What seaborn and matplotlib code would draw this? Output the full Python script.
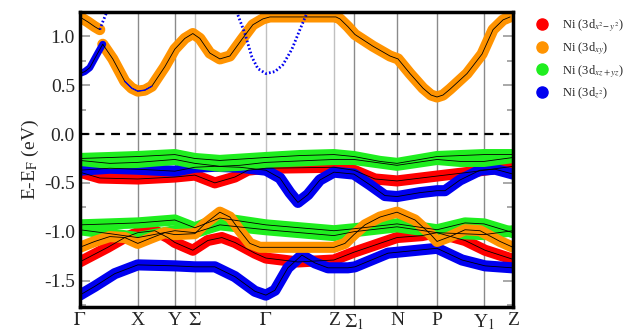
import numpy as np
import matplotlib
matplotlib.use("Agg")
import matplotlib.pyplot as plt
from matplotlib.lines import Line2D
import seaborn as sns

# ==========================================
# 1. Data (k in path units, energies in eV)
# ==========================================
KPOINTS = [0, 58, 95, 115, 186, 254, 274, 317, 357, 404, 433]
KLABELS = [r"$\Gamma$", "X", "Y", r"$\Sigma$", r"$\Gamma$", "Z", r"$\Sigma_1$", "N", "P", r"Y$_1$", "Z"]
LIGHT_LINES = [115, 186, 254]

# conduction bands
xy_top_k = [0, 8, 15, 20]
xy_top_e = [1.20, 1.15, 1.10, 1.07]
xy_main_k = [23, 33, 45, 52, 58, 65, 72, 85, 95, 105, 113, 120, 130, 140, 150, 162, 173, 183, 190, 256,
             260, 268, 275, 293, 310, 318, 330, 343, 351, 357, 363, 370, 387, 402, 413, 423, 430]
xy_main_e = [0.92, 0.77, 0.54, 0.47, 0.44, 0.45, 0.49, 0.69, 0.87, 0.98, 1.03, 0.98, 0.83, 0.77, 0.80, 0.97, 1.12,
             1.18, 1.20, 1.20, 1.18, 1.10, 1.02, 0.90, 0.80, 0.77, 0.62, 0.47, 0.40, 0.38, 0.40, 0.46, 0.62, 0.82,
             1.07, 1.17, 1.20]
z2_cb_k = [0, 5, 10, 18, 23]
z2_cb_e = [0.62, 0.64, 0.68, 0.83, 0.92]
z2_thin_k = [45, 52, 58, 65, 72]
z2_thin_e = [0.54, 0.47, 0.44, 0.45, 0.49]
para1_k = [20, 23, 27]
para1_e = [1.07, 1.15, 1.25]
para2_k = [158, 165, 172, 178, 186, 195, 203, 212, 220, 227]
para2_e = [1.22, 1.03, 0.79, 0.67, 0.62, 0.64, 0.71, 0.87, 1.07, 1.24]

# valence bands, upper group
xz_a_k = [0, 30, 58, 95, 115, 140, 186, 220, 254, 274, 300, 317, 340, 357, 404, 433]
xz_a_e = [-0.25, -0.24, -0.23, -0.21, -0.25, -0.27, -0.24, -0.22, -0.21, -0.23, -0.28, -0.30, -0.26, -0.23, -0.21, -0.21]
xz_b_k = [0, 30, 58, 95, 115, 140, 160, 186, 254, 274, 317, 357, 380, 404, 433]
xz_b_e = [-0.27, -0.30, -0.29, -0.26, -0.30, -0.33, -0.32, -0.29, -0.26, -0.26, -0.32, -0.26, -0.28, -0.28, -0.24]
z2_up_k = [0, 30, 58, 95, 115, 135, 160, 186, 200, 210, 218, 228, 240, 254, 274, 290, 305, 317, 340, 357, 365, 380, 400, 415, 433]
z2_up_e = [-0.37, -0.35, -0.36, -0.38, -0.34, -0.33, -0.34, -0.37, -0.45, -0.60, -0.70, -0.62, -0.47, -0.39, -0.41,
           -0.52, -0.63, -0.64, -0.60, -0.58, -0.58, -0.47, -0.37, -0.36, -0.41]
x2y2_up_k = [0, 20, 58, 95, 115, 135, 155, 168, 186, 254, 274, 295, 317, 357, 390, 433]
x2y2_up_e = [-0.39, -0.45, -0.46, -0.44, -0.42, -0.50, -0.44, -0.37, -0.35, -0.34, -0.37, -0.46, -0.48, -0.43, -0.39, -0.33]

# valence bands, lower group
xz_c_k = [0, 30, 58, 95, 115, 140, 186, 254, 274, 317, 357, 385, 404, 433]
xz_c_e = [-0.93, -0.92, -0.91, -0.88, -0.96, -0.86, -0.93, -0.99, -0.97, -0.92, -0.98, -0.91, -0.92, -1.01]
xz_d_k = [0, 30, 58, 95, 115, 140, 186, 254, 274, 317, 357, 404, 433]
xz_d_e = [-0.98, -1.02, -1.06, -0.99, -1.01, -0.93, -0.98, -1.04, -1.00, -0.95, -1.01, -1.03, -0.99]
xy_low_k = [0, 15, 30, 45, 58, 70, 85, 95, 115, 125, 140, 150, 160, 170, 180, 254, 265, 274, 285, 300, 317,
            335, 350, 357, 370, 385, 400, 420, 433]
xy_low_e = [-1.16, -1.10, -1.05, -1.06, -1.12, -1.07, -1.01, -1.03, -1.02, -0.92, -0.80, -0.85, -0.99, -1.12, -1.16,
            -1.16, -1.12, -1.03, -0.93, -0.85, -0.80, -0.88, -1.02, -1.10, -1.05, -0.98, -0.99, -1.10, -1.16]
x2y2_low_k = [0, 28, 45, 58, 75, 88, 95, 113, 128, 142, 155, 175, 186, 218, 254, 274, 317, 342, 357, 385, 405, 432]
x2y2_low_e = [-1.31, -1.16, -1.06, -1.01, -0.99, -1.06, -1.11, -1.19, -1.09, -1.06, -1.11, -1.22, -1.27, -1.31,
              -1.29, -1.21, -1.06, -1.04, -1.01, -1.09, -1.19, -1.28]
z2_low_k = [0, 15, 35, 58, 95, 115, 135, 155, 175, 186, 195, 208, 222, 235, 248, 268, 275, 308, 357, 382, 405, 432]
z2_low_e = [-1.65, -1.56, -1.43, -1.34, -1.35, -1.36, -1.36, -1.46, -1.61, -1.65, -1.60, -1.37, -1.24, -1.32,
            -1.37, -1.37, -1.36, -1.22, -1.17, -1.29, -1.35, -1.37]

RED, ORANGE, GREEN, BLUE = "#ff0000", "#ff9300", "#1fee1f", "#0000f0"
LEGEND_LABELS = [r"Ni (3d$_{x^2\!-y^2}$)", r"Ni (3d$_{xy}$)", r"Ni (3d$_{xz+yz}$)", r"Ni (3d$_{z^2}$)"]

sns.set_theme(style="white")
plt.rcParams["font.family"] = ["Liberation Serif", "DejaVu Serif"]
plt.rcParams["mathtext.fontset"] = "stix"


def fat_band(ax, k, e, color, lw=8):
    """Thick coloured band with the thin black band line on top."""
    sns.lineplot(x=k, y=e, sort=False, estimator=None, color=color, lw=lw,
                 solid_capstyle="round", solid_joinstyle="round", ax=ax, zorder=3)
    sns.lineplot(x=k, y=e, sort=False, estimator=None, color="black", lw=0.6, ax=ax, zorder=5)


fig = plt.figure(figsize=(6.28, 3.35), dpi=100)
ax = fig.add_axes([0.127, 0.084, 0.690, 0.880])

# vertical high-symmetry lines
for kp in KPOINTS[1:-1]:
    ax.axvline(kp, color="#c0c0c0" if kp in LIGHT_LINES else "#8a8a8a", lw=1.0, zorder=1)
ax.axhline(0.0, color="black", lw=1.6, ls=(0, (4, 3)), zorder=2)

# fat bands
fat_band(ax, x2y2_up_k, x2y2_up_e, RED)
fat_band(ax, x2y2_low_k, x2y2_low_e, RED)
fat_band(ax, z2_up_k, z2_up_e, BLUE)
fat_band(ax, z2_low_k, z2_low_e, BLUE)
fat_band(ax, xz_b_k, xz_b_e, GREEN)
fat_band(ax, xz_a_k, xz_a_e, GREEN)
fat_band(ax, xz_d_k, xz_d_e, GREEN)
fat_band(ax, xz_c_k, xz_c_e, GREEN)
fat_band(ax, xy_low_k, xy_low_e, ORANGE)
fat_band(ax, xy_top_k, xy_top_e, ORANGE)
fat_band(ax, xy_main_k, xy_main_e, ORANGE)
fat_band(ax, z2_cb_k, z2_cb_e, BLUE, lw=5)
sns.lineplot(x=z2_thin_k, y=z2_thin_e, sort=False, estimator=None, color=BLUE, lw=1.0, ax=ax, zorder=6)

# weakly weighted parabolic bands (dotted)
for pk, pe in [(para1_k, para1_e), (para2_k, para2_e)]:
    sns.lineplot(x=pk, y=pe, sort=False, estimator=None, color=BLUE, lw=2.0,
                 ls=(0, (0.6, 0.8)), ax=ax, zorder=4)

ax.set_xlim(KPOINTS[0], KPOINTS[-1])
ax.set_ylim(-1.77, 1.235)
ax.set_xticks(KPOINTS)
ax.set_xticklabels(KLABELS, fontsize=14)
ax.set_yticks([-1.5, -1.0, -0.5, 0.0, 0.5, 1.0])
ax.set_yticklabels(["-1.5", "-1.0", "-0.5", "0.0", "0.5", "1.0"], fontsize=14)
ax.set_yticks(np.arange(-1.75, 1.3, 0.25), minor=True)
ax.tick_params(axis="y", which="both", direction="in", left=True, right=True, color="#999999", width=1.2)
ax.tick_params(axis="y", which="major", length=7)
ax.tick_params(axis="y", which="minor", length=4)
ax.tick_params(axis="x", length=0, pad=4)
ax.set_ylabel(r"E-E$_\mathrm{F}$ (eV)", fontsize=14, labelpad=2)
ax.set_xlabel("")
for sp in ax.spines.values():
    sp.set_color("black")
    sp.set_linewidth(2.5)
    sp.set_zorder(10)

handles = [Line2D([], [], ls="", marker="o", ms=8, color=c) for c in (RED, ORANGE, GREEN, BLUE)]
ax.legend(handles, LEGEND_LABELS, loc="upper left", bbox_to_anchor=(1.038, 1.0), frameon=False,
          fontsize=9, handlelength=1.2, handletextpad=1.0, labelspacing=0.5, borderaxespad=0.0)

fig.savefig("out.png", dpi=100)
